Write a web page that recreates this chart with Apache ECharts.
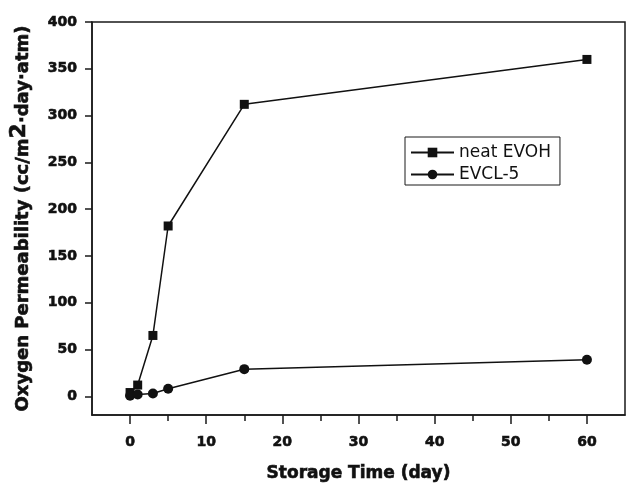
<!DOCTYPE html>
<html><head><meta charset="utf-8">
<script src="https://cdn.jsdelivr.net/npm/echarts@6/dist/echarts.min.js"></script>
<style>html,body{margin:0;padding:0;background:#fff}#c{width:629px;height:483px}</style>
</head><body><div id="c"></div>
<script>
const days = [0, 1, 3, 5, 15, 60];
const neatEVOH = [4, 12, 65, 182, 312, 360];
const evcl5 = [0.5, 2, 3, 8, 29, 39];
const xMajorTicks = [0, 10, 20, 30, 40, 50, 60];
const xMinorTicks = [5, 15, 25, 35, 45, 55];
const yTickValues = [0, 50, 100, 150, 200, 250, 300, 350, 400];

const font = '"DejaVu Sans", sans-serif';
const chart = echarts.init(document.getElementById('c'));
const axisCol = '#1a1a1a';
const heavy = {fontFamily: font, fontWeight: 'bold', color: '#111', textBorderColor: '#111', textBorderWidth: 0.6};
chart.setOption({
  animation: false,
  grid: {left: 92, top: 22, right: 4, bottom: 68, show: true, borderColor: axisCol, borderWidth: 1.5,
    outerBoundsMode: 'none', containLabel: false},
  legend: {
    left: 405, top: 137, orient: 'vertical', itemWidth: 43, itemHeight: 12, itemGap: 5,
    padding: [7, 9, 2, 5], borderColor: axisCol, borderWidth: 1,
    textStyle: {fontFamily: font, fontSize: 17, color: '#111'},
    data: [{name: 'neat EVOH'}, {name: 'EVCL-5'}]
  },
  xAxis: [{
    type: 'value', min: -5, max: 65, position: 'bottom',
    name: 'Storage Time (day)', nameLocation: 'middle', nameGap: 50,
    nameTextStyle: Object.assign({fontSize: 17}, heavy),
    axisLine: {onZero: false, lineStyle: {color: axisCol, width: 1.5}},
    axisTick: {show: true, inside: false, length: 9, customValues: xMajorTicks, lineStyle: {color: axisCol, width: 1.5}},
    axisLabel: Object.assign({customValues: xMajorTicks, fontSize: 14, margin: 20}, heavy),
    splitLine: {show: false}
  }, {
    type: 'value', min: -5, max: 65, position: 'bottom', offset: 0,
    axisLine: {show: false, onZero: false},
    axisTick: {show: true, inside: false, length: 6, customValues: xMinorTicks, lineStyle: {color: axisCol, width: 1.5}},
    axisLabel: {show: false},
    splitLine: {show: false}
  }],
  yAxis: {
    type: 'value', min: -20, max: 400,
    name: 'Oxygen Permeability (cc/m{sup|2}·day·atm)', nameLocation: 'middle', nameGap: 54,
    nameTextStyle: Object.assign({fontSize: 18,
      rich: {sup: Object.assign({fontSize: 22, padding: [0, 0, 8, 0]}, heavy)}}, heavy),
    axisLine: {onZero: false, lineStyle: {color: axisCol, width: 1.5}},
    axisTick: {show: true, length: 7, customValues: yTickValues, lineStyle: {color: axisCol, width: 1.5}},
    axisLabel: Object.assign({customValues: yTickValues, fontSize: 14, margin: 15}, heavy),
    splitLine: {show: false}
  },
  series: [
    {name: 'neat EVOH', type: 'line', xAxisIndex: 0, data: days.map((d, i) => [d, neatEVOH[i]]),
      symbol: 'rect', symbolSize: 9, lineStyle: {color: '#111', width: 1.5}, itemStyle: {color: '#111'}},
    {name: 'EVCL-5', type: 'line', xAxisIndex: 0, data: days.map((d, i) => [d, evcl5[i]]),
      symbol: 'circle', symbolSize: 10, lineStyle: {color: '#111', width: 1.5}, itemStyle: {color: '#111'}}
  ]
});
</script></body></html>
